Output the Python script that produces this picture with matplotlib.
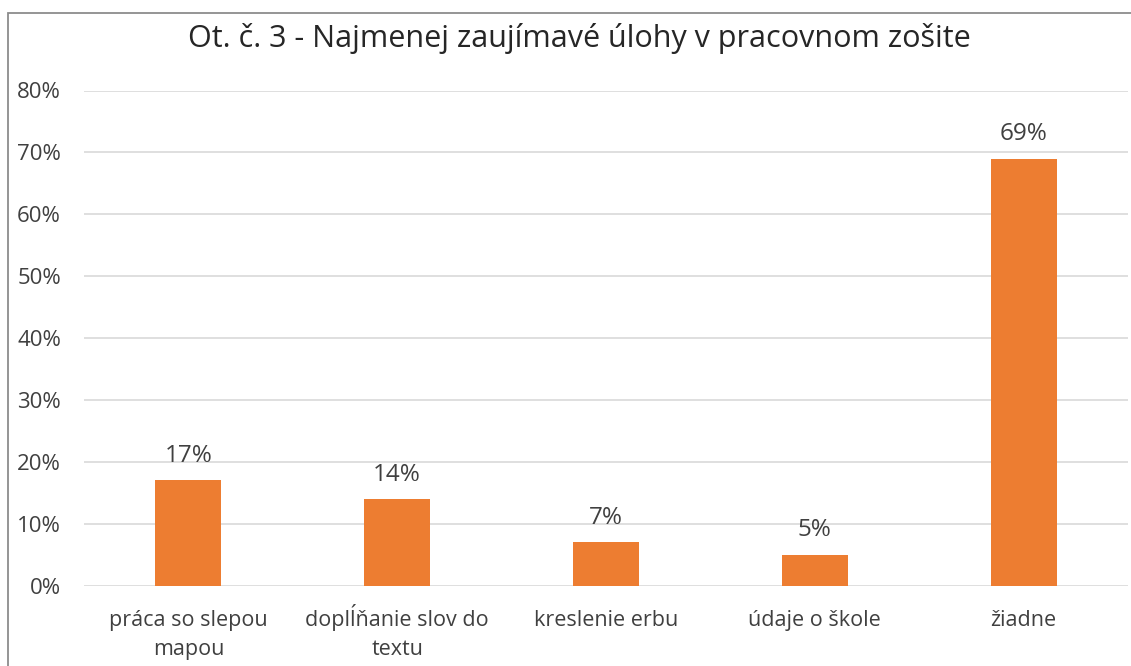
import matplotlib.pyplot as plt
from matplotlib.patches import Rectangle
from matplotlib.ticker import FuncFormatter

categories = ["práca so slepou\nmapou", "doplĺňanie slov do\ntextu", "kreslenie erbu",
              "údaje o škole", "žiadne"]
values = [0.17, 0.14, 0.07, 0.05, 0.69]
labels = ["17%", "14%", "7%", "5%", "69%"]
yticks = [0, 0.1, 0.2, 0.3, 0.4, 0.5, 0.6, 0.7, 0.8]
title = "Ot. č. 3 - Najmenej zaujímavé úlohy v pracovnom zošite"

W, H = 1131, 666
plt.rcParams['font.family'] = ['Open Sans', 'DejaVu Sans']
text_color = "#404040"

fig = plt.figure(figsize=(W / 100, H / 100), dpi=100)
fig.patch.set_facecolor("white")

# chart frame
fig.add_artist(Rectangle((8 / W, -0.05), 1.2, (H - 13) / H + 0.05, transform=fig.transFigure,
                         fill=False, edgecolor="#8c8c8c", linewidth=1.3))

ax = fig.add_axes([84 / W, (H - 585.5) / H, (1128 - 84) / W, (585.5 - 90.5) / H])
x = list(range(len(categories)))
ax.bar(x, values, width=0.316, color="#ED7D31", zorder=3)
ax.set_xlim(-0.5, len(categories) - 0.5)
ax.set_ylim(0, 0.8)
ax.set_yticks(yticks)
ax.yaxis.set_major_formatter(FuncFormatter(lambda v, p: f"{v * 100:.0f}%"))
ax.grid(axis="y", color="#d9d9d9", linewidth=1.2, zorder=0)
for s in ax.spines.values():
    s.set_visible(False)
ax.tick_params(axis="y", length=0, labelsize=16, colors=text_color, pad=16.5)
ax.set_xticks(x)
ax.tick_params(axis="x", length=0, labelbottom=False)

# category names, one baseline-aligned text per line
line_step = 20.9
for xi, cat in zip(x, categories):
    for i, line in enumerate(cat.split("\n")):
        ax.annotate(line, (xi, 0), xycoords=("data", "axes fraction"),
                    xytext=(0, -29.2 - i * line_step), textcoords="offset points",
                    ha="center", va="baseline", fontsize=15.5, color=text_color)

# value labels above bars
for xi, v, lab in zip(x, values, labels):
    ax.annotate(lab, (xi, v), xytext=(0, 13.2), textcoords="offset points",
                ha="center", va="baseline", fontsize=17.5, color=text_color)

fig.text(579 / W, (H - 47) / H, title, ha="center", va="baseline", fontsize=22, color="#262626")

fig.savefig("out.png", dpi=100)
